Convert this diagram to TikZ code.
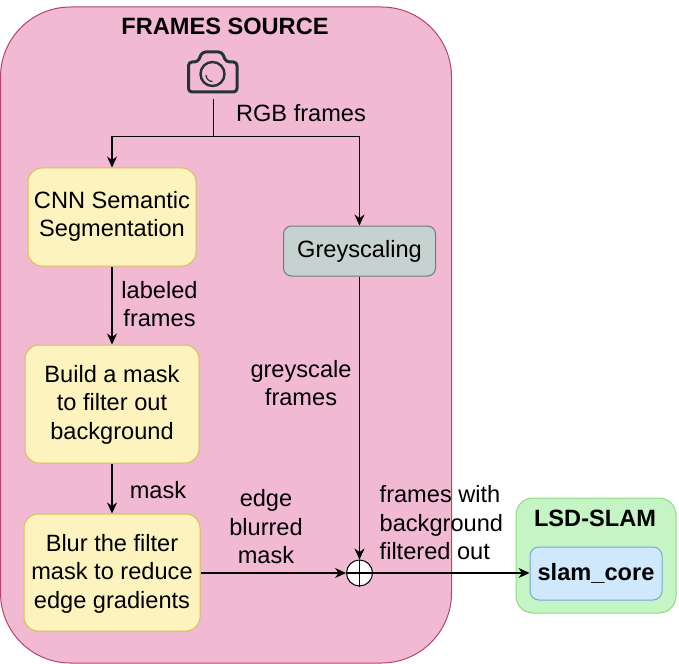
\documentclass[tikz,border=0pt]{standalone}
\usepackage{fontspec}
\setmainfont{Liberation Sans}
\usetikzlibrary{arrows.meta}
\definecolor{pinkfill}{HTML}{F2B9D3}
\definecolor{pinkline}{HTML}{B5436F}
\definecolor{yelfill}{HTML}{FCF3BF}
\definecolor{yelline}{HTML}{D9BF58}
\definecolor{greyfill}{HTML}{C6D2CF}
\definecolor{greyline}{HTML}{6B7C7C}
\definecolor{grnfill}{HTML}{C5F5C5}
\definecolor{grnline}{HTML}{8EDB80}
\definecolor{bluefill}{HTML}{CFE8FC}
\definecolor{blueline}{HTML}{74A7DC}
\definecolor{camcol}{HTML}{263238}
\tikzset{
  x=1pt,y=-1pt,
  txt/.style={font=\fontsize{23.6}{28.5}\selectfont,align=center,text=black,inner sep=0pt},
  boldtxt/.style={txt,font=\fontsize{23.6}{28.5}\selectfont\bfseries},
  yelbox/.style={draw=yelline,fill=yelfill,line width=1pt,rounded corners=14pt,txt},
  arr/.style={-{Stealth[length=11pt,width=10pt]},line width=1.05pt,black},
  lin/.style={line width=1.05pt,black}
}
\begin{document}
\begin{tikzpicture}
\useasboundingbox (0,0) rectangle (679,663);
\fill[white] (0,0) rectangle (679,663);
% frames source container
\draw[draw=pinkline,fill=pinkfill,line width=1pt,rounded corners=70pt] (0.5,7) rectangle (451.5,663);
\node[boldtxt] (title) at (225,26) {FRAMES SOURCE};
% camera
\node[minimum width=52pt,minimum height=46pt,inner sep=0pt] (camera) at (213,72) {};
\draw[camcol,line width=3pt,line join=round,rounded corners=3.5pt]
  (188.5,70) -- (188.5,92) -- (237,92) -- (237,62) -- (226,62) -- (222,52) -- (202,52) -- (198,62) -- (188.5,62) -- cycle;
\draw[camcol,line width=2.4pt] (212.5,74) circle (12pt);
\draw[camcol,line width=1.2pt] (206,75) arc (180:270:6.5pt);
% boxes
\node[yelbox,minimum width=168pt,minimum height=98pt] (cnn) at (112,217) {CNN Semantic\\Segmentation\\[-22.5pt]};
\node[yelbox,minimum width=174pt,minimum height=118pt] (mask) at (112,404) {Build a mask\\to filter out\\background\\[-24.5pt]};
\node[yelbox,minimum width=176pt,minimum height=117pt] (blur) at (112,572.5) {Blur the filter\\mask to reduce\\edge gradients\\[-25.5pt]};
\node[draw=greyline,fill=greyfill,line width=1pt,rounded corners=8pt,txt,minimum width=152pt,minimum height=50pt] (grey) at (359.5,251) {Greyscaling\\[-24.5pt]};
% LSD-SLAM
\node[draw=grnline,fill=grnfill,line width=1pt,rounded corners=17pt,minimum width=160pt,minimum height=115pt] (lsd) at (596,555.5) {};
\node[boldtxt] (lsdtitle) at (595,518) {LSD-SLAM};
\node[draw=blueline,fill=bluefill,line width=1pt,rounded corners=9pt,boldtxt,minimum width=132pt,minimum height=53pt] (core) at (596,573.5) {slam\_core};
% sum junction
\node[circle,draw=black,fill=white,line width=1pt,minimum size=26pt,inner sep=0pt] (sum) at (359.5,573) {};
\draw[lin] (sum.north) -- (sum.south) (sum.west) -- (sum.east);
% connectors
\coordinate (split) at (213.5,136.5);
\coordinate (campt) at (213.5,99);
\draw[lin] (campt) -- (split);
\draw[arr] (split) -| (cnn.north);
\draw[arr] (split) -| (grey.north);
\draw[arr] (cnn) -- (mask);
\draw[arr] (mask) -- (blur);
\draw[arr] (grey) -- (sum.north);
\draw[arr] (sum.west -| blur.east) -- (sum.west);
\draw[arr] (sum.east) -- (sum.east -| core.west);
% labels
\node[txt] (rgb) at (301,113) {RGB frames};
\node[txt] (lab) at (159.5,304) {labeled\\frames};
\node[txt] (gs) at (301,383) {greyscale\\frames};
\node[txt] (mk) at (158,490) {mask};
\node[txt] (ebm) at (266,527) {edge\\blurred\\mask};
\node[txt,align=left,anchor=west] (fw) at (379.5,523) {frames with\\background\\filtered out};
\end{tikzpicture}
\end{document}
